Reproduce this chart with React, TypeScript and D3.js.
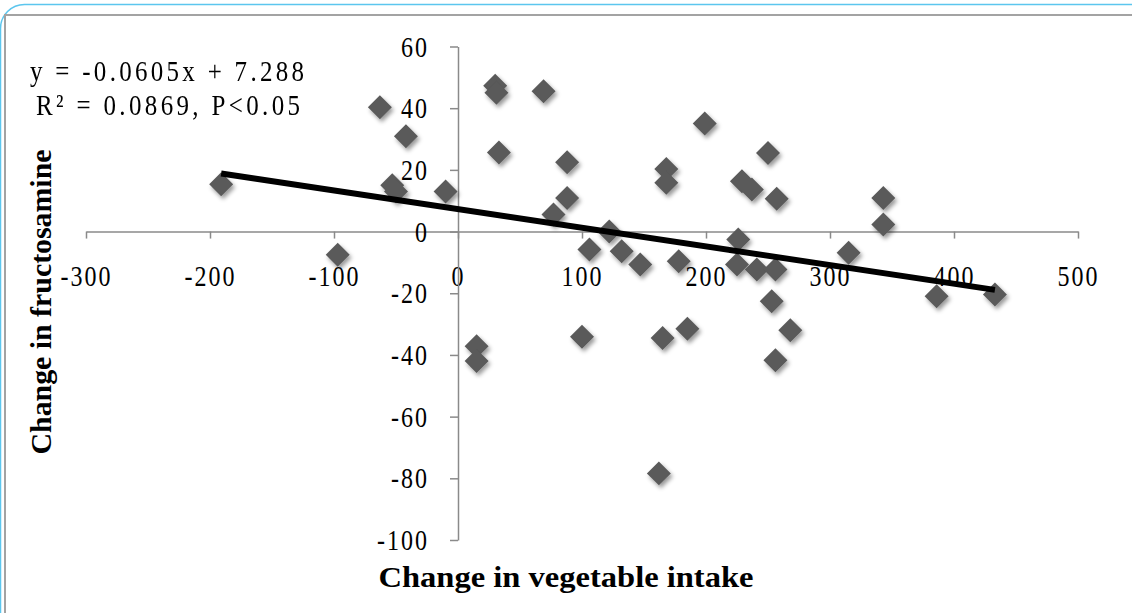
import React, { useEffect, useRef } from 'react';
import * as d3 from 'd3';

// change in vegetable intake (x) vs change in fructosamine (y)
const vegChange = [
  -191, -97, -63, -42, -53, -50, -10, 30, 31, 33, 69, 88, 88, 77,
  106, 122, 132, 147, 178, 168, 168, 199, 229, 237, 250, 257,
  226, 225, 241, 256, 253, 315, 343, 343, 386, 433,
  15, 15, 100, 165, 185, 162, 268, 256,
];
const fructChange = [
  15.3, -7.5, 40.3, 30.9, 15, 13, 13, 47.3, 45, 25.6, 45.5, 22.5, 10.9, 5.5,
  -5.8, 0, -6.4, -10.7, -9.6, 20.3, 15.8, 35, 16.3, 13.6, 25.5, 10.6,
  -2.6, -10.7, -12.3, -12.3, -22.6, -6.9, 10.9, 2.3, -21, -20.4,
  -37.2, -42, -34.1, -34.5, -31.5, -78.4, -32, -41.7,
];

const xTicks = [-300, -200, -100, 0, 100, 200, 300, 400, 500];
const yTicks = [-100, -80, -60, -40, -20, 0, 20, 40, 60];

const slope = -0.0605;
const intercept = 7.288;
const equationText = 'y = -0.0605x + 7.288';
const statsText = 'R\u00B2 = 0.0869, P<0.05';
const xTitle = 'Change in vegetable intake';
const yTitle = 'Change in fructosamine';

const WIDTH = 1132;
const HEIGHT = 613;
const serif = '"Liberation Serif", "Times New Roman", serif';

const App = () => {
  const ref = useRef<SVGSVGElement>(null);

  useEffect(() => {
    const svg = d3.select(ref.current);
    svg.selectAll('*').remove();

    const x = d3.scaleLinear().domain([-300, 500]).range([86, 1078]);
    const y = d3.scaleLinear().domain([-100, 60]).range([540, 46.5]);

    // drop shadow for the markers
    const filter = svg.append('defs').append('filter')
      .attr('id', 'shadow')
      .attr('x', '-50%').attr('y', '-50%')
      .attr('width', '200%').attr('height', '200%');
    filter.append('feDropShadow')
      .attr('dx', 2).attr('dy', 3)
      .attr('stdDeviation', 2.2)
      .attr('flood-color', '#000')
      .attr('flood-opacity', 0.4);

    // frames
    svg.append('rect')
      .attr('x', 0.5).attr('y', 4.5)
      .attr('width', 1300).attr('height', 800)
      .attr('rx', 24)
      .attr('fill', 'none')
      .attr('stroke', '#5cc6ee')
      .attr('stroke-width', 1.5);
    svg.append('rect')
      .attr('x', 5).attr('y', 15)
      .attr('width', 1300).attr('height', 800)
      .attr('fill', '#fff')
      .attr('stroke', '#a3a3a3')
      .attr('stroke-width', 2);

    const fmt = (d: d3.NumberValue) => String(d);

    // x axis
    const gx = svg.append('g')
      .attr('transform', `translate(0,${y(0)})`)
      .call(d3.axisBottom(x).tickValues(xTicks).tickSizeInner(7).tickSizeOuter(0).tickFormat(fmt));
    gx.select('.domain').attr('stroke', '#8a8a8a').attr('stroke-width', 1.5);
    gx.selectAll('.tick line').attr('stroke', '#8a8a8a').attr('stroke-width', 1.5);
    gx.selectAll('.tick text')
      .attr('y', 0).attr('dy', 0)
      .attr('transform', 'translate(0,54.5) scale(1,1.22)')
      .attr('font-family', serif)
      .attr('font-size', 24)
      .attr('letter-spacing', 2)
      .attr('fill', '#000');

    // y axis
    const gy = svg.append('g')
      .attr('transform', `translate(${x(0)},0)`)
      .call(d3.axisLeft(y).tickValues(yTicks).tickSizeInner(8).tickSizeOuter(0).tickFormat(fmt));
    gy.select('.domain').attr('stroke', '#8a8a8a').attr('stroke-width', 1.5);
    gy.selectAll('.tick line').attr('stroke', '#8a8a8a').attr('stroke-width', 1.5);
    gy.selectAll('.tick text')
      .attr('x', 0).attr('dy', 0)
      .attr('transform', 'translate(-29,9.5) scale(1,1.22)')
      .attr('font-family', serif)
      .attr('font-size', 24)
      .attr('letter-spacing', 2)
      .attr('fill', '#000');
    svg.selectAll('.domain').attr('fill', 'none');

    // points
    const points = vegChange.map((v, i) => [v, fructChange[i]]);
    const diamond = d3.symbol(d3.symbolDiamond2, 367);
    svg.append('g')
      .attr('filter', 'url(#shadow)')
      .selectAll('path')
      .data(points)
      .join('path')
      .attr('transform', d => `translate(${x(d[0])},${y(d[1])})`)
      .attr('d', diamond)
      .attr('fill', '#5a5a5a');

    // linear trend line across the data range
    const [xMin, xMax] = d3.extent(vegChange) as [number, number];
    const line = d3.line<number>()
      .x(d => x(d))
      .y(d => y(slope * d + intercept));
    svg.append('path')
      .datum([xMin, xMax])
      .attr('d', line)
      .attr('fill', 'none')
      .attr('stroke', '#000')
      .attr('stroke-width', 6);

    // equation
    svg.append('text')
      .attr('transform', 'translate(30,81) scale(1,1.18)')
      .attr('font-family', serif)
      .attr('font-size', 25)
      .attr('textLength', 274)
      .attr('lengthAdjust', 'spacing')
      .attr('fill', '#000')
      .text(equationText);
    svg.append('text')
      .attr('transform', 'translate(36,115) scale(1,1.18)')
      .attr('font-family', serif)
      .attr('font-size', 25)
      .attr('textLength', 264)
      .attr('lengthAdjust', 'spacing')
      .attr('fill', '#000')
      .text(statsText);

    // axis titles
    svg.append('text')
      .attr('x', 566).attr('y', 587)
      .attr('text-anchor', 'middle')
      .attr('font-family', serif)
      .attr('font-weight', 'bold')
      .attr('font-size', 29)
      .attr('textLength', 375)
      .attr('lengthAdjust', 'spacingAndGlyphs')
      .attr('fill', '#000')
      .text(xTitle);
    svg.append('text')
      .attr('transform', 'translate(51,302) rotate(-90)')
      .attr('text-anchor', 'middle')
      .attr('font-family', serif)
      .attr('font-weight', 'bold')
      .attr('font-size', 29)
      .attr('textLength', 305)
      .attr('lengthAdjust', 'spacingAndGlyphs')
      .attr('fill', '#000')
      .text(yTitle);
  }, []);

  return (
    <svg
      ref={ref}
      width={WIDTH}
      height={HEIGHT}
      style={{ position: 'absolute', left: 0, top: 0, background: '#fff' }}
    />
  );
};

export default App;
